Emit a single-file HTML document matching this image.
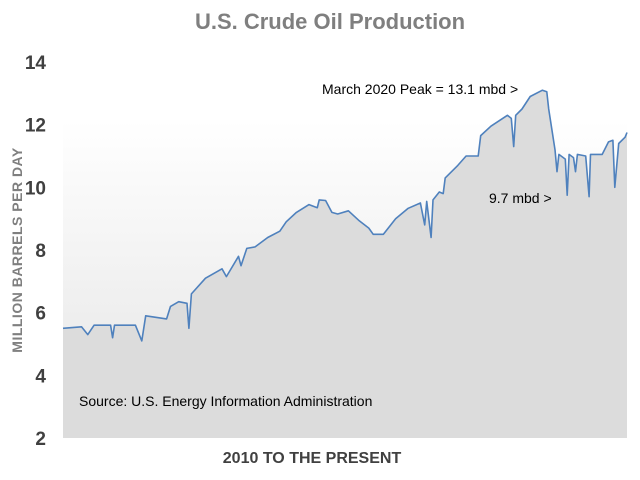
<!DOCTYPE html>
<html><head><meta charset="utf-8"><style>
body{margin:0;background:#fff;}
svg{display:block;font-family:"Liberation Sans",sans-serif;}
</style></head><body>
<svg id="chart" width="640" height="480" viewBox="0 0 640 480">
<defs>
<linearGradient id="bg" x1="0" y1="0" x2="0" y2="1">
<stop offset="0" stop-color="#ffffff"/><stop offset="1" stop-color="#e4e4e4"/>
</linearGradient>
</defs>
<text x="330" y="29" text-anchor="middle" font-size="22" font-weight="bold" fill="#7f7f7f">U.S. Crude Oil Production</text>
<rect x="63" y="120" width="564" height="318" fill="url(#bg)"/>
<g id="ticks"></g>
<path id="area" fill="#dcdcdc"/>
<path id="line" fill="none" stroke="#4f81bd" stroke-width="1.6" stroke-linejoin="round"/>
<text transform="translate(22,250) rotate(-90)" text-anchor="middle" font-size="14" font-weight="bold" fill="#7f7f7f" letter-spacing="0.5">MILLION BARRELS PER DAY</text>
<text x="312" y="463" text-anchor="middle" font-size="16" font-weight="bold" fill="#404040" style="font-family:'Liberation Sans Narrow','Liberation Sans',sans-serif">2010 TO THE PRESENT</text>
<text x="322" y="94" font-size="14" fill="#000" style="font-family:'Liberation Sans Narrow','Liberation Sans',sans-serif">March 2020 Peak = 13.1 mbd &gt;</text>
<text x="489" y="203" font-size="14" fill="#000" style="font-family:'Liberation Sans Narrow','Liberation Sans',sans-serif">9.7 mbd &gt;</text>
<text x="79" y="406" font-size="14" fill="#000" style="font-family:'Liberation Sans Narrow','Liberation Sans',sans-serif">Source: U.S. Energy Information Administration</text>
</svg>
<script>
const years=[2010.00,2010.38,2010.51,2010.64,2010.98,2011.02,2011.06,2011.49,2011.62,2011.70,2012.13,2012.21,2012.38,2012.55,2012.59,2012.64,2012.93,2013.27,2013.36,2013.61,2013.66,2013.78,2013.95,2014.21,2014.46,2014.59,2014.80,2015.06,2015.23,2015.27,2015.40,2015.53,2015.65,2015.87,2016.08,2016.29,2016.38,2016.59,2016.84,2017.10,2017.35,2017.44,2017.48,2017.57,2017.61,2017.74,2017.82,2017.86,2018.12,2018.29,2018.54,2018.59,2018.80,2019.14,2019.22,2019.27,2019.31,2019.44,2019.61,2019.86,2019.95,2019.99,2020.12,2020.16,2020.20,2020.33,2020.37,2020.41,2020.50,2020.54,2020.58,2020.75,2020.82,2020.85,2021.09,2021.22,2021.31,2021.35,2021.43,2021.56,2021.60];
const production=[5.5,5.55,5.3,5.6,5.6,5.2,5.6,5.6,5.1,5.9,5.8,6.2,6.35,6.3,5.5,6.6,7.1,7.4,7.15,7.8,7.5,8.05,8.1,8.4,8.6,8.9,9.2,9.45,9.35,9.6,9.58,9.2,9.15,9.25,8.95,8.7,8.5,8.5,9.0,9.33,9.5,8.8,9.55,8.4,9.6,9.85,9.8,10.3,10.7,11.0,11.0,11.65,11.95,12.3,12.2,11.3,12.3,12.5,12.9,13.1,13.05,12.5,11.2,10.5,11.05,10.9,9.75,11.05,10.95,10.5,11.05,11.0,9.7,11.05,11.05,11.45,11.5,10.0,11.4,11.6,11.75];
const yTicks=[2,4,6,8,10,12,14];
const x0=2010,x1=2021.6,px0=63,px1=627;
const xs=v=>px0+(v-x0)/(x1-x0)*(px1-px0);
const ys=v=>438-(v-2)/12*376;
const ns="http://www.w3.org/2000/svg";
const tg=document.getElementById('ticks');
yTicks.forEach(t=>{
  const el=document.createElementNS(ns,'text');
  
  
  el.setAttribute('x',46);el.setAttribute('y',ys(t)+7);
  el.setAttribute('text-anchor','end');el.setAttribute('font-size','19');
  el.setAttribute('font-weight','bold');el.setAttribute('fill','#404040');
  el.setAttribute('style',"font-family:'Liberation Sans Narrow','Liberation Sans',sans-serif");
  el.textContent=t;tg.appendChild(el);
});
let d='';
years.forEach((y,i)=>{d+=(i?'L':'M')+xs(y).toFixed(1)+','+ys(production[i]).toFixed(1);});
document.getElementById('line').setAttribute('d',d);
document.getElementById('area').setAttribute('d',d+'L'+xs(years[years.length-1]).toFixed(1)+',438L'+xs(years[0]).toFixed(1)+',438Z');
</script>
</body></html>
